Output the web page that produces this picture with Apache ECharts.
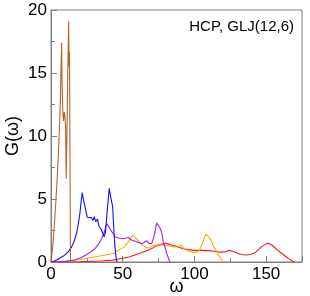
<!DOCTYPE html>
<html>
<head>
<meta charset="utf-8">
<script src="https://cdn.jsdelivr.net/npm/echarts@6/dist/echarts.min.js"></script>
<style>html,body{margin:0;padding:0;background:#fff}#c{width:310px;height:296px}</style>
</head>
<body>
<div id="c"></div>
<script>
const titleText = "HCP, GLJ(12,6)";
const xName = "ω";
const yName = "G(ω)";
const xTicks = [0, 50, 100, 150];
const yTicks = [0, 5, 10, 15, 20];

const brown = [[0,0],[1,1.0],[2,2.4],[3,4.1],[4,6.0],[5,8.2],[6,10.9],[6.6,13],[7.1,16],[7.4,17.4],[7.7,14.5],[8.2,12],[8.7,11.2],[9.3,11.9],[9.8,11.4],[10.2,10.6],[10.6,6.6],[11.1,10],[11.7,15],[12.3,19.1],[12.6,15.5],[12.9,16.7],[13.2,9],[13.6,0]];
const blue = [[0,0],[3,0.1],[6,0.3],[9,0.5],[12,0.8],[14.4,1.2],[16,1.6],[17.9,2.3],[19,3.0],[20.2,3.9],[21,4.8],[21.8,5.5],[22.5,5.0],[23.7,4.4],[25.3,3.55],[26.5,3.4],[28.4,3.5],[29.3,3.3],[30.2,3.6],[31.1,3.2],[32.5,3.4],[33.2,2.9],[34.1,3.0],[35,2.6],[36,2.3],[37,2.0],[38,2.4],[39,3.8],[40.6,5.85],[41.8,5.05],[43,4.4],[43.8,2.6],[44.6,1.2],[45.5,0.2],[46,0]];
const purple = [[0,0],[10,0.05],[16.7,0.16],[21.4,0.37],[25,0.6],[28.4,0.85],[31,1.1],[33,1.4],[35.3,1.85],[37,2.3],[38.8,3.05],[40,2.85],[41.1,2.7],[43,2.3],[44.6,2.0],[47,1.9],[50.4,1.85],[53.9,1.95],[55.1,2.1],[56.2,1.75],[57.4,1.75],[59.7,1.6],[61,1.5],[63.2,1.45],[65,1.55],[66.7,1.7],[68,1.5],[70.2,1.45],[71.5,1.9],[72.5,2.4],[73.7,3.1],[74.8,2.95],[76.5,2.6],[77.5,2.2],[78.3,1.6],[79.5,1.2],[80.6,0.7],[82.5,0.1],[83,0]];
const orange = [[0,0],[10,0.05],[20,0.2],[30,0.4],[38,0.55],[44,0.7],[48,1.0],[51,1.2],[54,1.6],[56,1.95],[57.2,2.15],[58.5,1.95],[60,1.8],[62,1.55],[64,1.3],[66.5,1.15],[68.5,1.1],[71,1.3],[74,1.35],[78,1.35],[81,1.3],[83,1.25],[86,1.2],[88.7,1.2],[90.5,1.35],[92,1.15],[94,1.0],[96,0.9],[98,0.8],[100,0.72],[102,0.8],[103.5,0.95],[105,1.3],[106.5,1.8],[108,2.2],[109.2,2.05],[110.5,1.95],[112,1.6],[113.5,1.2],[115.5,0.85],[117.5,0.4],[119,0.15],[120,0]];
const red = [[0,0],[20,0.02],[35,0.08],[43,0.15],[50,0.3],[55,0.42],[62,0.7],[69,1.0],[74,1.3],[77,1.4],[80,1.5],[82,1.42],[84,1.35],[88,1.22],[92,1.05],[96,0.98],[100,0.92],[105,0.92],[110,0.9],[114,0.85],[118,0.78],[121,0.8],[124,0.92],[126,0.88],[129,0.75],[132,0.6],[136,0.55],[139,0.6],[142,0.72],[144,0.9],[146,1.15],[148,1.3],[150.5,1.48],[152,1.46],[154,1.35],[157,1.05],[160,0.75],[163,0.5],[166,0.25],[168,0.1],[169.5,0]];

const seriesList = [
  {data: red, color: '#ff1a1a'},
  {data: orange, color: '#ffa500'},
  {data: purple, color: '#a020f0'},
  {data: blue, color: '#1010ff'},
  {data: brown, color: '#b4642d'}
];

const font = 'Liberation Sans, Arial, Helvetica, sans-serif';
const chart = echarts.init(document.getElementById('c'), null, {renderer: 'canvas'});
chart.setOption({
  animation: false,
  backgroundColor: '#fff',
  title: {
    text: titleText, right: 11, top: 14,
    textStyle: {fontFamily: font, fontSize: 15, fontWeight: 'normal', color: '#000'}
  },
  grid: {left: 51, right: 8, top: 10, bottom: 34, containLabel: false, outerBoundsMode: 'none',
    show: true, borderColor: '#808080', borderWidth: 1, backgroundColor: 'transparent'},
  xAxis: {
    type: 'value', min: 0, max: 175, interval: 50,
    name: xName, nameLocation: 'middle', nameGap: 16, nameMoveOverlap: false,
    nameTextStyle: {fontFamily: font, fontSize: 18, color: '#000'},
    axisLine: {show: true, lineStyle: {color: '#808080', width: 1}},
    axisTick: {show: true, inside: true, length: 6, lineStyle: {color: '#808080'}},
    minorTick: {show: true, splitNumber: 2, length: 4, lineStyle: {color: '#808080'}},
    axisLabel: {fontFamily: font, fontSize: 17, color: '#000', margin: 4,
      formatter: v => xTicks.includes(v) ? String(v) : ''},
    splitLine: {show: false}
  },
  yAxis: {
    type: 'value', min: 0, max: 20, interval: 5,
    name: yName, nameLocation: 'middle', nameGap: 29, nameRotate: 90, nameMoveOverlap: false,
    nameTextStyle: {fontFamily: font, fontSize: 18, color: '#000'},
    axisLine: {show: true, lineStyle: {color: '#808080', width: 1}},
    axisTick: {show: true, inside: true, length: 6, lineStyle: {color: '#808080'}},
    minorTick: {show: true, splitNumber: 2, length: 4, lineStyle: {color: '#808080'}},
    axisLabel: {fontFamily: font, fontSize: 17, color: '#000', margin: 4,
      formatter: v => yTicks.includes(v) ? String(v) : ''},
    splitLine: {show: false}
  },
  series: seriesList.map(s => ({
    type: 'line', data: s.data, showSymbol: false, symbol: 'none',
    lineStyle: {color: s.color, width: 1.1}, itemStyle: {color: s.color}
  }))
});
</script>
</body>
</html>
